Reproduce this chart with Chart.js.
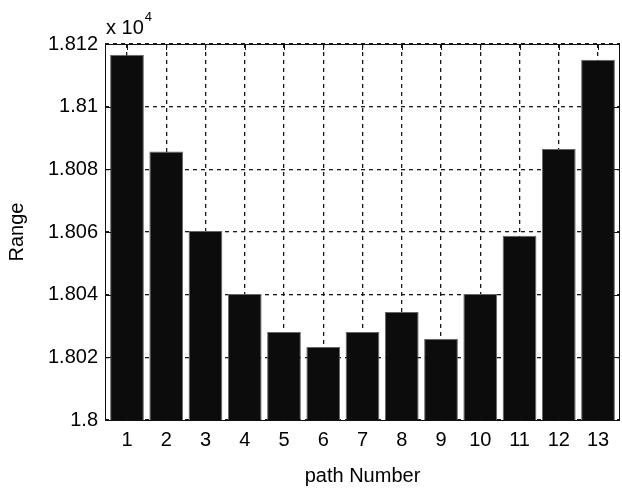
<!DOCTYPE html>
<html>
<head>
<meta charset="utf-8">
<script src="https://cdn.jsdelivr.net/npm/chart.js@4"></script>
<style>
  html, body { margin: 0; padding: 0; background: #fff; }
  canvas { display: block; }
</style>
</head>
<body>
<canvas id="rangeChart" width="622" height="488"></canvas>
<script>
const pathNumbers = [1, 2, 3, 4, 5, 6, 7, 8, 9, 10, 11, 12, 13];
const rangeValues = [18116.6, 18085.7, 18060.3, 18040.2, 18028.1, 18023.3, 18028.1,
                     18034.5, 18025.9, 18040.2, 18058.8, 18086.5, 18115.0];
const yTicks = [18000, 18020, 18040, 18060, 18080, 18100, 18120];

const fontFamily = '"Liberation Sans", Arial, sans-serif';

// frame, inward tick marks and the "x 10^4" multiplier, like matlab draws them
const axesBox = {
  id: 'axesBox',
  afterDatasetsDraw(chart) {
    const ctx = chart.ctx;
    const a = chart.chartArea;
    const xs = chart.scales.x, ys = chart.scales.y;
    const len = 6;
    ctx.save();
    ctx.strokeStyle = '#111';
    ctx.lineWidth = 1;
    ctx.strokeRect(Math.round(a.left) + 0.5, Math.round(a.top) + 0.5,
                   Math.round(a.right - a.left) - 1, Math.round(a.bottom - a.top));
    ctx.beginPath();
    pathNumbers.forEach(v => {
      const px = Math.round(xs.getPixelForValue(v)) + 0.5;
      ctx.moveTo(px, a.top); ctx.lineTo(px, a.top + len);
      ctx.moveTo(px, a.bottom); ctx.lineTo(px, a.bottom - len);
    });
    yTicks.forEach(v => {
      const py = Math.round(ys.getPixelForValue(v)) + 0.5;
      ctx.moveTo(a.left, py); ctx.lineTo(a.left + len, py);
      ctx.moveTo(a.right, py); ctx.lineTo(a.right - len, py);
    });
    ctx.stroke();

    ctx.fillStyle = '#000';
    ctx.textBaseline = 'alphabetic';
    ctx.textAlign = 'left';
    ctx.font = '20px ' + fontFamily;
    ctx.fillText('x 10', a.left + 1, 34);
    const w = ctx.measureText('x 10').width;
    ctx.font = '13px ' + fontFamily;
    ctx.fillText('4', a.left + 2 + w, 21);
    ctx.restore();
  }
};

new Chart(document.getElementById('rangeChart'), {
  type: 'bar',
  data: {
    datasets: [{
      data: pathNumbers.map((p, i) => ({ x: p, y: rangeValues[i] })),
      backgroundColor: '#0c0c0c',
      borderColor: '#666',
      borderWidth: 1,
      barPercentage: 1,
      categoryPercentage: 0.86
    }]
  },
  options: {
    responsive: false,
    animation: false,
    devicePixelRatio: 1,
    layout: { padding: { top: 44, right: 2, left: 0, bottom: 0 } },
    plugins: {
      legend: { display: false },
      tooltip: { enabled: false }
    },
    scales: {
      x: {
        type: 'linear',
        min: 0.44,
        max: 13.56,
        offset: false,
        afterBuildTicks: s => { s.ticks = pathNumbers.map(v => ({ value: v })); },
        afterFit: s => { s.height = 68; },
        grid: { color: '#1a1a1a', lineWidth: 1.3, drawTicks: false, offset: false },
        border: { display: false, dash: [4, 4] },
        ticks: {
          color: '#000',
          padding: 8,
          maxRotation: 0,
          font: { family: fontFamily, size: 20 }
        },
        title: {
          display: true,
          text: 'path Number',
          color: '#000',
          padding: { top: 0, bottom: 0 },
          font: { family: fontFamily, size: 20 }
        }
      },
      y: {
        min: 18000,
        max: 18120,
        afterBuildTicks: s => { s.ticks = yTicks.map(v => ({ value: v })); },
        afterFit: s => { s.width = 105; },
        grid: { color: '#1a1a1a', lineWidth: 1.3, drawTicks: false },
        border: { display: false, dash: [4, 4] },
        ticks: {
          color: '#000',
          padding: 7,
          font: { family: fontFamily, size: 20 },
          callback: v => String(parseFloat((v / 10000).toFixed(3)))
        },
        title: {
          display: true,
          text: 'Range',
          color: '#000',
          padding: { top: 5, bottom: 0 },
          font: { family: fontFamily, size: 20 }
        }
      }
    }
  },
  plugins: [axesBox]
});
</script>
</body>
</html>
